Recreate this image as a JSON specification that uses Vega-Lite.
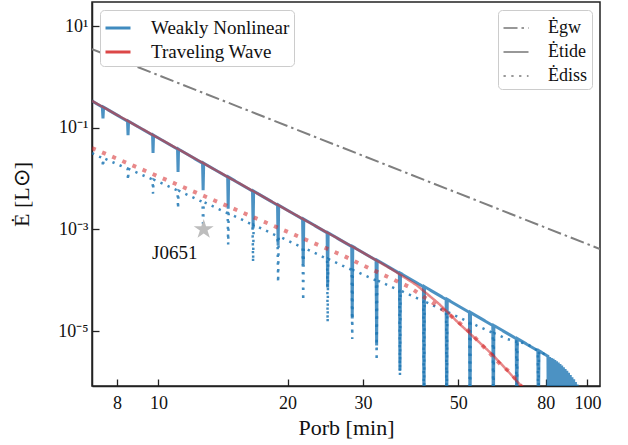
{
  "$schema": "https://vega.github.io/schema/vega-lite/v6.json",
  "width": 508,
  "height": 384,
  "autosize": "none",
  "padding": {"left": 92, "top": 2, "right": 28, "bottom": 59},
  "background": "white",
  "datasets": {
    "curves": [
      {"s": "a", "m": "W", "q": "tide", "P": 7.0, "E": 0.337},
      {"s": "a", "m": "W", "q": "tide", "P": 7.40, "E": 0.2535}, {"s": "a", "m": "W", "q": "tide", "P": 7.425, "E": 0.152}, {"s": "a", "m": "W", "q": "tide", "P": 7.45, "E": 0.2535},
      {"s": "a", "m": "W", "q": "tide", "P": 8.47, "E": 0.1343}, {"s": "a", "m": "W", "q": "tide", "P": 8.494, "E": 0.0711}, {"s": "a", "m": "W", "q": "tide", "P": 8.52, "E": 0.1343},
      {"s": "a", "m": "W", "q": "tide", "P": 9.69, "E": 0.0713}, {"s": "a", "m": "W", "q": "tide", "P": 9.714, "E": 0.0318}, {"s": "a", "m": "W", "q": "tide", "P": 9.74, "E": 0.0713},
      {"s": "a", "m": "W", "q": "tide", "P": 11.08, "E": 0.0378}, {"s": "a", "m": "W", "q": "tide", "P": 11.11, "E": 0.01346}, {"s": "a", "m": "W", "q": "tide", "P": 11.14, "E": 0.0378},
      {"s": "a", "m": "W", "q": "tide", "P": 12.67, "E": 0.02004}, {"s": "a", "m": "W", "q": "tide", "P": 12.71, "E": 0.00586}, {"s": "a", "m": "W", "q": "tide", "P": 12.75, "E": 0.02004},
      {"s": "a", "m": "W", "q": "tide", "P": 14.50, "E": 0.01064}, {"s": "a", "m": "W", "q": "tide", "P": 14.54, "E": 0.00256}, {"s": "a", "m": "W", "q": "tide", "P": 14.58, "E": 0.01064},
      {"s": "a", "m": "W", "q": "tide", "P": 16.57, "E": 0.00565}, {"s": "a", "m": "W", "q": "tide", "P": 16.62, "E": 0.001047}, {"s": "a", "m": "W", "q": "tide", "P": 16.67, "E": 0.00565},
      {"s": "a", "m": "W", "q": "tide", "P": 18.95, "E": 0.0030}, {"s": "a", "m": "W", "q": "tide", "P": 19.01, "E": 0.000484}, {"s": "a", "m": "W", "q": "tide", "P": 19.07, "E": 0.0030},
      {"s": "a", "m": "W", "q": "tide", "P": 21.68, "E": 0.00159}, {"s": "a", "m": "W", "q": "tide", "P": 21.75, "E": 0.000204}, {"s": "a", "m": "W", "q": "tide", "P": 21.82, "E": 0.00159},
      {"s": "a", "m": "W", "q": "tide", "P": 24.73, "E": 0.000855}, {"s": "a", "m": "W", "q": "tide", "P": 24.80, "E": 0.000072}, {"s": "a", "m": "W", "q": "tide", "P": 24.87, "E": 0.000855},
      {"s": "a", "m": "W", "q": "tide", "P": 28.22, "E": 0.000459}, {"s": "a", "m": "W", "q": "tide", "P": 28.30, "E": 0.0000176}, {"s": "a", "m": "W", "q": "tide", "P": 28.38, "E": 0.000459},
      {"s": "a", "m": "W", "q": "tide", "P": 32.16, "E": 0.000247}, {"s": "a", "m": "W", "q": "tide", "P": 32.26, "E": 0.00000518}, {"s": "a", "m": "W", "q": "tide", "P": 32.36, "E": 0.000247},
      {"s": "a", "m": "W", "q": "tide", "P": 36.45, "E": 0.0001368}, {"s": "a", "m": "W", "q": "tide", "P": 36.56, "E": 0.00000167}, {"s": "a", "m": "W", "q": "tide", "P": 36.67, "E": 0.0001368},
      {"s": "a", "m": "W", "q": "tide", "P": 41.47, "E": 0.0000745}, {"s": "a", "m": "W", "q": "tide", "P": 41.59, "E": 1e-7}, {"s": "a", "m": "W", "q": "tide", "P": 41.71, "E": 0.0000745},
      {"s": "a", "m": "W", "q": "tide", "P": 46.85, "E": 0.0000419}, {"s": "a", "m": "W", "q": "tide", "P": 46.99, "E": 1e-7}, {"s": "a", "m": "W", "q": "tide", "P": 47.13, "E": 0.0000419},
      {"s": "a", "m": "W", "q": "tide", "P": 53.09, "E": 0.0000232}, {"s": "a", "m": "W", "q": "tide", "P": 53.25, "E": 1e-7}, {"s": "a", "m": "W", "q": "tide", "P": 53.41, "E": 0.0000232},
      {"s": "a", "m": "W", "q": "tide", "P": 60.18, "E": 0.00001285}, {"s": "a", "m": "W", "q": "tide", "P": 60.36, "E": 1e-7}, {"s": "a", "m": "W", "q": "tide", "P": 60.54, "E": 0.00001285},
      {"s": "a", "m": "W", "q": "tide", "P": 68.24, "E": 0.0000071}, {"s": "a", "m": "W", "q": "tide", "P": 68.45, "E": 1e-7}, {"s": "a", "m": "W", "q": "tide", "P": 68.66, "E": 0.0000071},
      {"s": "a", "m": "W", "q": "tide", "P": 76.64, "E": 0.0000041}, {"s": "a", "m": "W", "q": "tide", "P": 76.87, "E": 1e-7}, {"s": "a", "m": "W", "q": "tide", "P": 77.10, "E": 0.0000041},
      {"s": "a", "m": "W", "q": "tide", "P": 80.4, "E": 0.00000329},
      {"s": "a", "m": "W", "q": "tide", "P": 80.91, "E": 0.00000319}, {"s": "a", "m": "W", "q": "tide", "P": 81.07, "E": 1e-7},
      {"s": "a", "m": "W", "q": "tide", "P": 81.66, "E": 0.00000307}, {"s": "a", "m": "W", "q": "tide", "P": 81.82, "E": 1e-7},
      {"s": "a", "m": "W", "q": "tide", "P": 82.41, "E": 0.00000295}, {"s": "a", "m": "W", "q": "tide", "P": 82.57, "E": 1e-7},
      {"s": "a", "m": "W", "q": "tide", "P": 83.18, "E": 0.00000284}, {"s": "a", "m": "W", "q": "tide", "P": 83.35, "E": 1e-7},
      {"s": "a", "m": "W", "q": "tide", "P": 83.95, "E": 0.0000027}, {"s": "a", "m": "W", "q": "tide", "P": 84.12, "E": 1e-7},
      {"s": "a", "m": "W", "q": "tide", "P": 84.72, "E": 0.00000255}, {"s": "a", "m": "W", "q": "tide", "P": 84.89, "E": 1e-7},
      {"s": "a", "m": "W", "q": "tide", "P": 85.51, "E": 0.0000024}, {"s": "a", "m": "W", "q": "tide", "P": 85.68, "E": 1e-7},
      {"s": "a", "m": "W", "q": "tide", "P": 86.30, "E": 0.00000226}, {"s": "a", "m": "W", "q": "tide", "P": 86.47, "E": 1e-7},
      {"s": "a", "m": "W", "q": "tide", "P": 87.10, "E": 0.0000021}, {"s": "a", "m": "W", "q": "tide", "P": 87.27, "E": 1e-7},
      {"s": "a", "m": "W", "q": "tide", "P": 87.90, "E": 0.00000195}, {"s": "a", "m": "W", "q": "tide", "P": 88.08, "E": 1e-7},
      {"s": "a", "m": "W", "q": "tide", "P": 88.72, "E": 0.0000018}, {"s": "a", "m": "W", "q": "tide", "P": 88.90, "E": 1e-7},
      {"s": "a", "m": "W", "q": "tide", "P": 89.54, "E": 0.00000166}, {"s": "a", "m": "W", "q": "tide", "P": 89.72, "E": 1e-7},
      {"s": "a", "m": "W", "q": "tide", "P": 90.36, "E": 0.00000151}, {"s": "a", "m": "W", "q": "tide", "P": 90.54, "E": 1e-7},
      {"s": "a", "m": "W", "q": "tide", "P": 91.20, "E": 0.00000136}, {"s": "a", "m": "W", "q": "tide", "P": 91.38, "E": 1e-7},
      {"s": "a", "m": "W", "q": "tide", "P": 92.04, "E": 0.00000124}, {"s": "a", "m": "W", "q": "tide", "P": 92.22, "E": 1e-7},
      {"s": "a", "m": "W", "q": "tide", "P": 92.90, "E": 0.00000112}, {"s": "a", "m": "W", "q": "tide", "P": 93.09, "E": 1e-7},
      {"s": "a", "m": "W", "q": "tide", "P": 93.76, "E": 0.000000995}, {"s": "a", "m": "W", "q": "tide", "P": 93.95, "E": 1e-7},
      {"s": "a", "m": "W", "q": "tide", "P": 94.62, "E": 0.00000089}, {"s": "a", "m": "W", "q": "tide", "P": 94.81, "E": 1e-7},

      {"s": "b", "m": "W", "q": "diss", "P": 7.0, "E": 0.0315},
      {"s": "b", "m": "W", "q": "diss", "P": 7.40, "E": 0.0253}, {"s": "b", "m": "W", "q": "diss", "P": 7.425, "E": 0.0169}, {"s": "b", "m": "W", "q": "diss", "P": 7.45, "E": 0.0253},
      {"s": "b", "m": "W", "q": "diss", "P": 8.47, "E": 0.01552}, {"s": "b", "m": "W", "q": "diss", "P": 8.494, "E": 0.00925}, {"s": "b", "m": "W", "q": "diss", "P": 8.52, "E": 0.01552},
      {"s": "b", "m": "W", "q": "diss", "P": 9.69, "E": 0.00955}, {"s": "b", "m": "W", "q": "diss", "P": 9.714, "E": 0.00505}, {"s": "b", "m": "W", "q": "diss", "P": 9.74, "E": 0.00955},
      {"s": "b", "m": "W", "q": "diss", "P": 10.34, "E": 0.0076},
      {"s": "b", "m": "W", "q": "diss", "P": 11.08, "E": 0.00579}, {"s": "b", "m": "W", "q": "diss", "P": 11.11, "E": 0.00256}, {"s": "b", "m": "W", "q": "diss", "P": 11.14, "E": 0.00579},
      {"s": "b", "m": "W", "q": "diss", "P": 12.67, "E": 0.00346}, {"s": "b", "m": "W", "q": "diss", "P": 12.71, "E": 0.00111}, {"s": "b", "m": "W", "q": "diss", "P": 12.75, "E": 0.00346},
      {"s": "b", "m": "W", "q": "diss", "P": 14.50, "E": 0.00207}, {"s": "b", "m": "W", "q": "diss", "P": 14.54, "E": 0.000506}, {"s": "b", "m": "W", "q": "diss", "P": 14.58, "E": 0.00207},
      {"s": "b", "m": "W", "q": "diss", "P": 15.49, "E": 0.001626},
      {"s": "b", "m": "W", "q": "diss", "P": 16.57, "E": 0.001236}, {"s": "b", "m": "W", "q": "diss", "P": 16.62, "E": 0.000227}, {"s": "b", "m": "W", "q": "diss", "P": 16.67, "E": 0.001236},
      {"s": "b", "m": "W", "q": "diss", "P": 18.95, "E": 0.000735}, {"s": "b", "m": "W", "q": "diss", "P": 19.01, "E": 0.0000904}, {"s": "b", "m": "W", "q": "diss", "P": 19.07, "E": 0.000735},
      {"s": "b", "m": "W", "q": "diss", "P": 21.68, "E": 0.000437}, {"s": "b", "m": "W", "q": "diss", "P": 21.75, "E": 0.0000399}, {"s": "b", "m": "W", "q": "diss", "P": 21.82, "E": 0.000437},
      {"s": "b", "m": "W", "q": "diss", "P": 24.73, "E": 0.000263}, {"s": "b", "m": "W", "q": "diss", "P": 24.80, "E": 0.0000149}, {"s": "b", "m": "W", "q": "diss", "P": 24.87, "E": 0.000263},
      {"s": "b", "m": "W", "q": "diss", "P": 26.24, "E": 0.000211},
      {"s": "b", "m": "W", "q": "diss", "P": 28.22, "E": 0.00016}, {"s": "b", "m": "W", "q": "diss", "P": 28.30, "E": 0.000007}, {"s": "b", "m": "W", "q": "diss", "P": 28.38, "E": 0.00016},
      {"s": "b", "m": "W", "q": "diss", "P": 29.49, "E": 0.0001377},
      {"s": "b", "m": "W", "q": "diss", "P": 32.16, "E": 0.000099}, {"s": "b", "m": "W", "q": "diss", "P": 32.26, "E": 0.00000262}, {"s": "b", "m": "W", "q": "diss", "P": 32.36, "E": 0.000099},
      {"s": "b", "m": "W", "q": "diss", "P": 34.34, "E": 0.0000789},
      {"s": "b", "m": "W", "q": "diss", "P": 36.45, "E": 0.0000625}, {"s": "b", "m": "W", "q": "diss", "P": 36.56, "E": 0.00000133}, {"s": "b", "m": "W", "q": "diss", "P": 36.67, "E": 0.0000625},
      {"s": "b", "m": "W", "q": "diss", "P": 39.63, "E": 0.0000463},
      {"s": "b", "m": "W", "q": "diss", "P": 41.47, "E": 0.0000385}, {"s": "b", "m": "W", "q": "diss", "P": 41.59, "E": 1e-7}, {"s": "b", "m": "W", "q": "diss", "P": 41.71, "E": 0.0000385},
      {"s": "b", "m": "W", "q": "diss", "P": 43.72, "E": 0.0000318},
      {"s": "b", "m": "W", "q": "diss", "P": 46.85, "E": 0.000024}, {"s": "b", "m": "W", "q": "diss", "P": 46.99, "E": 1e-7}, {"s": "b", "m": "W", "q": "diss", "P": 47.13, "E": 0.000024},
      {"s": "b", "m": "W", "q": "diss", "P": 53.09, "E": 0.00001476}, {"s": "b", "m": "W", "q": "diss", "P": 53.25, "E": 1e-7}, {"s": "b", "m": "W", "q": "diss", "P": 53.41, "E": 0.00001476},
      {"s": "b", "m": "W", "q": "diss", "P": 55.21, "E": 0.0000128},
      {"s": "b", "m": "W", "q": "diss", "P": 60.18, "E": 0.00000918}, {"s": "b", "m": "W", "q": "diss", "P": 60.36, "E": 1e-7}, {"s": "b", "m": "W", "q": "diss", "P": 60.54, "E": 0.00000918},
      {"s": "b", "m": "W", "q": "diss", "P": 64.86, "E": 0.000007},
      {"s": "b", "m": "W", "q": "diss", "P": 68.24, "E": 0.00000622}, {"s": "b", "m": "W", "q": "diss", "P": 68.45, "E": 1e-7}, {"s": "b", "m": "W", "q": "diss", "P": 68.66, "E": 0.00000622},
      {"s": "b", "m": "W", "q": "diss", "P": 72.23, "E": 0.0000056},
      {"s": "b", "m": "W", "q": "diss", "P": 76.64, "E": 0.0000041}, {"s": "b", "m": "W", "q": "diss", "P": 76.87, "E": 1e-7}, {"s": "b", "m": "W", "q": "diss", "P": 77.10, "E": 0.0000041},
      {"s": "b", "m": "W", "q": "diss", "P": 80.4, "E": 0.00000329},

      {"s": "c", "m": "T", "q": "tide", "P": 7.0, "E": 0.337},
      {"s": "c", "m": "T", "q": "tide", "P": 30, "E": 0.000348},
      {"s": "c", "m": "T", "q": "tide", "P": 35, "E": 0.000164},
      {"s": "c", "m": "T", "q": "tide", "P": 40, "E": 0.0000798},
      {"s": "c", "m": "T", "q": "tide", "P": 45, "E": 0.0000348},
      {"s": "c", "m": "T", "q": "tide", "P": 50, "E": 0.0000146},
      {"s": "c", "m": "T", "q": "tide", "P": 55, "E": 0.0000069},
      {"s": "c", "m": "T", "q": "tide", "P": 60, "E": 0.00000347},
      {"s": "c", "m": "T", "q": "tide", "P": 65, "E": 0.00000169},
      {"s": "c", "m": "T", "q": "tide", "P": 70, "E": 0.00000084},
      {"s": "c", "m": "T", "q": "tide", "P": 75, "E": 0.00000043},

      {"s": "d", "m": "T", "q": "diss2", "P": 7.0, "E": 0.0398},
      {"s": "d", "m": "T", "q": "diss2", "P": 16.62, "E": 0.00175},
      {"s": "d", "m": "T", "q": "diss2", "P": 26.88, "E": 0.000308},
      {"s": "d", "m": "T", "q": "diss2", "P": 30.02, "E": 0.0001955},
      {"s": "d", "m": "T", "q": "diss2", "P": 38.23, "E": 0.0000753},
      {"s": "d", "m": "T", "q": "diss2", "P": 42.56, "E": 0.0000412},
      {"s": "d", "m": "T", "q": "diss2", "P": 46.99, "E": 0.0000234},
      {"s": "d", "m": "T", "q": "diss2", "P": 52.31, "E": 0.000011},
      {"s": "d", "m": "T", "q": "diss2", "P": 62.56, "E": 0.00000226},
      {"s": "d", "m": "T", "q": "diss2", "P": 66.03, "E": 0.00000154},
      {"s": "d", "m": "T", "q": "diss2", "P": 70, "E": 0.00000084},
      {"s": "d", "m": "T", "q": "diss2", "P": 75, "E": 0.00000043},

      {"s": "g", "m": "G", "q": "gw", "P": 7.0, "E": 3.52},
      {"s": "g", "m": "G", "q": "gw", "P": 107, "E": 0.00041}
    ],
    "obs": [
      {"name": "J0651", "P": 12.75, "E": 0.001}
    ]
  },
  "encoding": {
    "x": {
      "field": "P", "type": "quantitative",
      "scale": {"type": "log", "domain": [7, 107], "nice": false},
      "axis": {
        "values": [8, 10, 20, 30, 50, 80, 100],
        "format": "d",
        "title": "Porb [min]",
        "labelPadding": 15,
        "titlePadding": 5
      }
    },
    "y": {
      "field": "E", "type": "quantitative",
      "scale": {"type": "log", "domain": [8.3e-7, 29.7], "nice": false},
      "axis": {
        "values": [10, 0.1, 0.001, 0.00001],
        "labelExpr": "datum.value > 1 ? '10¹' : datum.value > 0.01 ? '10⁻¹' : datum.value > 0.0001 ? '10⁻³' : '10⁻⁵'",
        "title": "Ė [L⊙]",
        "labelPadding": 11,
        "titlePadding": 24
      }
    }
  },
  "layer": [
    {
      "data": {"name": "curves"},
      "transform": [{"filter": "datum.s == 'a'"}],
      "mark": {"type": "line", "clip": true, "strokeWidth": 3, "opacity": 0.8},
      "encoding": {
        "color": {
          "field": "m", "type": "nominal",
          "scale": {"domain": ["W", "T", "G"], "range": ["#1f77b4", "#d62728", "#7f7f7f"]},
          "legend": {
            "values": ["W", "T"],
            "labelExpr": "datum.value == 'W' ? 'Weakly Nonlinear' : 'Traveling Wave'",
            "title": null,
            "orient": "top-left",
            "offset": 8,
            "symbolType": "stroke",
            "symbolSize": 625,
            "symbolStrokeWidth": 3,
            "symbolOpacity": 0.6,
            "labelFontSize": 19,
            "labelOffset": 19,
            "rowPadding": 0,
            "padding": 4
          }
        },
        "strokeDash": {
          "field": "q", "type": "nominal",
          "scale": {"domain": ["gw", "tide", "diss", "diss2"], "range": [[14, 4, 2.5, 4], [1, 0], [2.3, 5.5], [4, 7]]},
          "legend": {
            "values": ["gw", "tide", "diss"],
            "labelExpr": "datum.value == 'gw' ? 'Ėgw' : datum.value == 'tide' ? 'Ėtide' : 'Ėdiss'",
            "title": null,
            "orient": "top-right",
            "offset": 8,
            "symbolType": "stroke",
            "symbolSize": 625,
            "symbolStrokeWidth": 2.2,
            "symbolStrokeColor": "#7f7f7f",
            "labelFontSize": 18,
            "labelOffset": 18,
            "rowPadding": 1,
            "padding": 4
          }
        }
      }
    },
    {
      "data": {"name": "curves"},
      "transform": [{"filter": "datum.s == 'b'"}],
      "mark": {"type": "line", "clip": true, "strokeWidth": 2.5, "opacity": 0.85},
      "encoding": {
        "color": {"field": "m", "type": "nominal"},
        "strokeDash": {"field": "q", "type": "nominal"}
      }
    },
    {
      "data": {"name": "curves"},
      "transform": [{"filter": "datum.s == 'c'"}],
      "mark": {"type": "line", "clip": true, "strokeWidth": 2.5, "opacity": 0.55},
      "encoding": {
        "color": {"field": "m", "type": "nominal"},
        "strokeDash": {"field": "q", "type": "nominal"}
      }
    },
    {
      "data": {"name": "curves"},
      "transform": [{"filter": "datum.s == 'd'"}],
      "mark": {"type": "line", "clip": true, "strokeWidth": 4, "opacity": 0.55},
      "encoding": {
        "color": {"field": "m", "type": "nominal"},
        "strokeDash": {"field": "q", "type": "nominal"}
      }
    },
    {
      "data": {"name": "curves"},
      "transform": [{"filter": "datum.s == 'g'"}],
      "mark": {"type": "line", "clip": true, "strokeWidth": 2, "opacity": 1},
      "encoding": {
        "color": {"field": "m", "type": "nominal"},
        "strokeDash": {"field": "q", "type": "nominal"}
      }
    },
    {
      "data": {"name": "obs"},
      "mark": {
        "type": "point",
        "shape": "M0,-1L0.2245,-0.309L0.951,-0.309L0.363,0.118L0.588,0.809L0,0.382L-0.588,0.809L-0.363,0.118L-0.951,-0.309L-0.2245,-0.309Z",
        "filled": true, "color": "#bdbdbd", "opacity": 1, "size": 441
      }
    },
    {
      "data": {"name": "obs"},
      "mark": {"type": "text", "dx": -29, "dy": 24, "fontSize": 19, "font": "Liberation Serif", "color": "#111"},
      "encoding": {
        "text": {"field": "name"}
      }
    }
  ],
  "config": {
    "font": "Liberation Serif",
    "view": {"stroke": "#222", "strokeWidth": 1.5},
    "axis": {
      "grid": false,
      "domainColor": "#222",
      "domainWidth": 1.5,
      "tickColor": "#222",
      "tickWidth": 1.3,
      "tickSize": -7,
      "labelFont": "Liberation Serif",
      "labelFontSize": 18,
      "labelColor": "#111",
      "titleFont": "Liberation Serif",
      "titleFontSize": 22,
      "titleFontWeight": "normal",
      "titleColor": "#111"
    },
    "legend": {
      "labelFont": "Liberation Serif",
      "labelFontSize": 17,
      "labelColor": "#111",
      "strokeColor": "#cccccc",
      "fillColor": "white",
      "cornerRadius": 4
    }
  }
}
